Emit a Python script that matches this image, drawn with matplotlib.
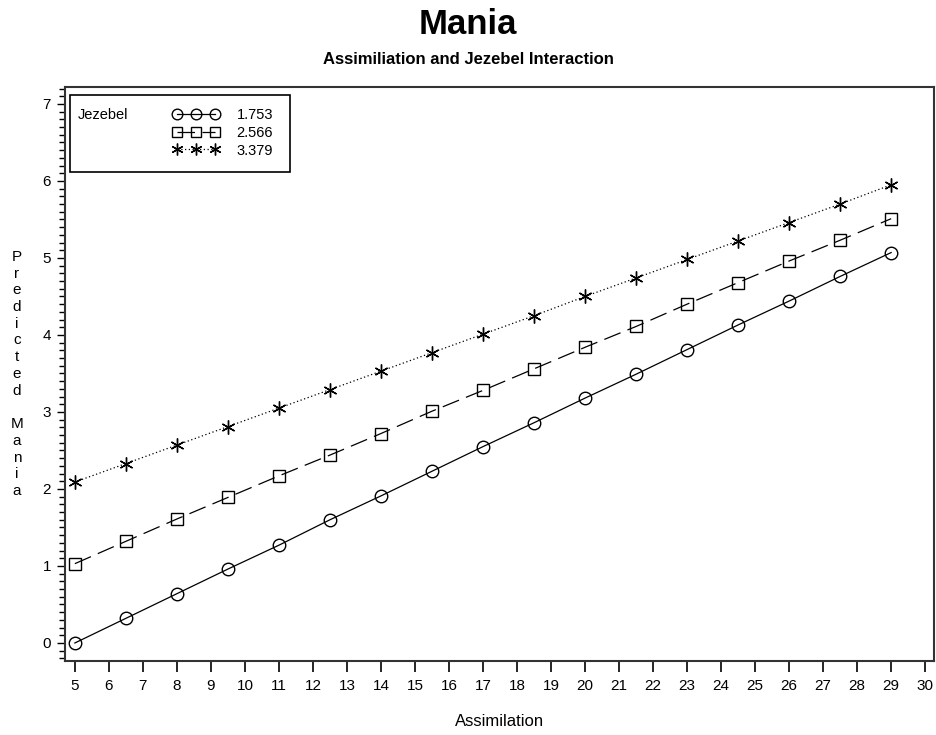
import matplotlib
matplotlib.use("Agg")
import matplotlib.pyplot as plt
from matplotlib.lines import Line2D
from matplotlib.patches import Rectangle
from matplotlib.ticker import MultipleLocator

plt.rcParams['font.family'] = ['Liberation Sans', 'DejaVu Sans']

assimilation = [5, 6.5, 8, 9.5, 11, 12.5, 14, 15.5, 17, 18.5, 20, 21.5, 23, 24.5, 26, 27.5, 29]
mania_1753 = [0.00, 0.32, 0.64, 0.96, 1.27, 1.60, 1.91, 2.23, 2.55, 2.86, 3.18, 3.49, 3.81, 4.13, 4.44, 4.76, 5.07]
mania_2566 = [1.03, 1.32, 1.61, 1.89, 2.17, 2.44, 2.72, 3.01, 3.28, 3.56, 3.84, 4.11, 4.40, 4.68, 4.96, 5.23, 5.51]
mania_3379 = [2.09, 2.33, 2.57, 2.81, 3.05, 3.29, 3.53, 3.77, 4.01, 4.25, 4.50, 4.74, 4.98, 5.22, 5.46, 5.70, 5.95]
levels = ['1.753', '2.566', '3.379']
x_ticks = list(range(5, 31))
y_ticks = list(range(0, 8))

fig = plt.figure(figsize=(9.36, 7.35), dpi=100)
ax = fig.add_axes([65 / 936, 1 - 661 / 735, (934 - 65) / 936, (661 - 87) / 735])

star = (6, 2, 0)
styles = [
    dict(ls='-', marker='o', ms=9),
    dict(ls=(0, (14, 6)), marker='s', ms=9),
    dict(ls=(0, (1, 2)), marker=star, ms=10),
]
for ys, st in zip([mania_1753, mania_2566, mania_3379], styles):
    ax.plot(assimilation, ys, color='black', lw=0.9, mfc='none', mec='black', mew=1.0, **st)

ax.set_xlim(4.71, 30.26)
ax.set_ylim(-0.234, 7.22)
ax.set_xticks(x_ticks)
ax.set_yticks(y_ticks)
ax.yaxis.set_minor_locator(MultipleLocator(0.1))
ax.tick_params(axis='x', direction='out', length=8, width=1.2, pad=5, labelsize=11)
ax.tick_params(axis='y', which='major', direction='out', length=6, width=1, pad=4, labelsize=11)
ax.tick_params(axis='y', which='minor', direction='out', length=4, width=1)
for lab in ax.get_xticklabels():
    lab.set_fontstretch('condensed')
for sp in ax.spines.values():
    sp.set_linewidth(1.5)
    sp.set_color('#333333')

ax.set_xlabel('Assimilation', fontsize=12, va='center')
ax.xaxis.set_label_coords(0.5, (661 - 722) / 574)
fig.text(17 / 936, 1 - 374 / 735, 'P\nr\ne\nd\ni\nc\nt\ne\nd\n\nM\na\nn\ni\na',
         ha='center', va='center', fontsize=11, linespacing=1.25)

fig.text(0.5, 1 - 25 / 735, 'Mania', ha='center', va='center', fontsize=25, fontweight='bold')
fig.text(0.5, 1 - 59 / 735, 'Assimiliation and Jezebel Interaction', ha='center', va='center',
         fontsize=12, fontweight='bold')

# legend box
box = Rectangle((70 / 936, 1 - 172 / 735), (290 - 70) / 936, (172 - 95) / 735,
                transform=fig.transFigure, fill=False, edgecolor='black', lw=1.2)
fig.patches.append(box)
fig.text(78 / 936, 1 - 115 / 735, 'Jezebel', ha='left', va='center', fontsize=10.5)
leg_handles = [Line2D([0], [0], color='black', lw=0.9, mfc='none', mec='black', **st) for st in styles]
for h in leg_handles:
    h.set_markersize(h.get_markersize() * 0.85)
fig.legend(leg_handles, levels, loc='upper left', bbox_to_anchor=(165 / 936, 1 - 101 / 735),
           frameon=False, numpoints=3, handlelength=3.2, handletextpad=1.2, labelspacing=0.25,
           borderpad=0, prop={'size': 10.5})

fig.savefig('out.png', dpi=100)
